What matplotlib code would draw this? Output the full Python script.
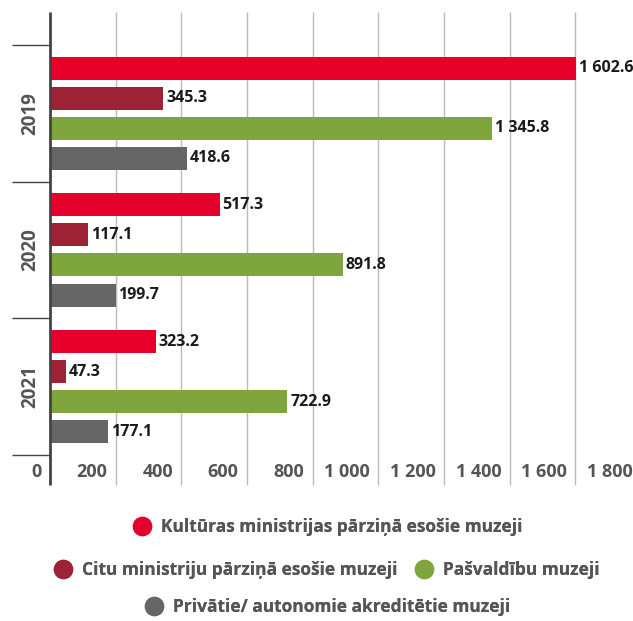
import matplotlib
matplotlib.use("Agg")
import matplotlib.pyplot as plt
from matplotlib.lines import Line2D
from matplotlib.transforms import ScaledTranslation, blended_transform_factory

plt.rcParams["font.family"] = ["Open Sans", "DejaVu Sans"]

# data
years = ["2019", "2020", "2021"]
series_names = [
    "Kultūras ministrijas pārziņā esošie muzeji",
    "Citu ministriju pārziņā esošie muzeji",
    "Pašvaldību muzeji",
    "Privātie/ autonomie akreditētie muzeji",
]
kultura = [1602.6, 517.3, 323.2]
citu_min = [345.3, 117.1, 47.3]
pasvald = [1345.8, 891.8, 722.9]
privat = [418.6, 199.7, 177.1]
x_ticks = [0, 200, 400, 600, 800, 1000, 1200, 1400, 1600, 1800]

colors = ["#e4002b", "#9d2235", "#7ea63c", "#666666"]
text_gray = "#555555"


def fmt(v):
    # 1602.6 -> "1 602.6"
    s = f"{v:,.1f}" if v % 1 else f"{v:,.0f}"
    return s.replace(",", " ")


fig = plt.figure(figsize=(6.33, 6.21), dpi=100)
W, H = 633, 621
ax = fig.add_axes([50 / W, (H - 455) / H, 591 / W, 443 / H])

group_y = [2.5, 1.5, 0.5]
offsets = [0.33, 0.11, -0.11, -0.33]
bar_h = 0.168
all_series = [kultura, citu_min, pasvald, privat]

for vals, off, col in zip(all_series, offsets, colors):
    ys = [g + off for g in group_y]
    ax.barh(ys, vals, height=bar_h, color=col, zorder=3)
    for y, v in zip(ys, vals):
        ax.annotate(fmt(v), (v, y), xytext=(2, 0), textcoords="offset points",
                    ha="left", va="center", fontsize=11.5, fontweight="bold",
                    color="#1a1a1a", zorder=4)

ax.set_xlim(0, 1800)
ax.set_ylim(0, 3.24)
for s in ax.spines.values():
    s.set_visible(False)
ax.set_yticks([])

# grid lines extend below the plot, through the tick labels
ext = -30 / 443
ax.vlines(x_ticks[1:], ext, 1, transform=ax.get_xaxis_transform(),
          color="#bbbbbb", lw=1, clip_on=False, zorder=1)
ax.vlines([0], ext, 1, transform=ax.get_xaxis_transform(),
          color="#444444", lw=2, clip_on=False, zorder=5)

# group separator ticks on the left
tr = blended_transform_factory(ax.transAxes, ax.transData)
ax.hlines([0, 1, 2, 3], -38 / 591, 0, transform=tr, color="#444444",
          lw=1, clip_on=False)
for g, yr in zip(group_y, years):
    ax.text(-20 / 591, g, yr, transform=tr, rotation=90, ha="center",
            va="center", fontsize=13.5, fontweight="bold", color=text_gray)

ax.set_xticks(x_ticks)
ax.set_xticklabels([fmt(t) for t in x_ticks])
ax.tick_params(axis="x", length=0, pad=6, labelsize=13, labelcolor=text_gray)
for lab in ax.get_xticklabels():
    lab.set_fontweight("bold")
    lab.set_ha("right")
    lab.set_transform(lab.get_transform() +
                      ScaledTranslation(-6 / 72, 0, fig.dpi_scale_trans))


def handle(c):
    return Line2D([], [], marker="o", ls="", markersize=13, color=c)


leg_kw = dict(frameon=False, loc="center", handlelength=1.0,
              handletextpad=0.6, columnspacing=1.0, labelcolor=text_gray,
              prop={"weight": "bold", "size": 12.5})
rows = [([0], (328 / W, (H - 527) / H)),
        ([1, 2], (327 / W, (H - 570) / H)),
        ([3], (328 / W, (H - 607) / H))]
for idx, anchor in rows:
    leg = fig.legend([handle(colors[i]) for i in idx],
                     [series_names[i] for i in idx], ncol=len(idx),
                     bbox_to_anchor=anchor, **leg_kw)
    fig.add_artist(leg)

fig.savefig("out.png", dpi=100)
